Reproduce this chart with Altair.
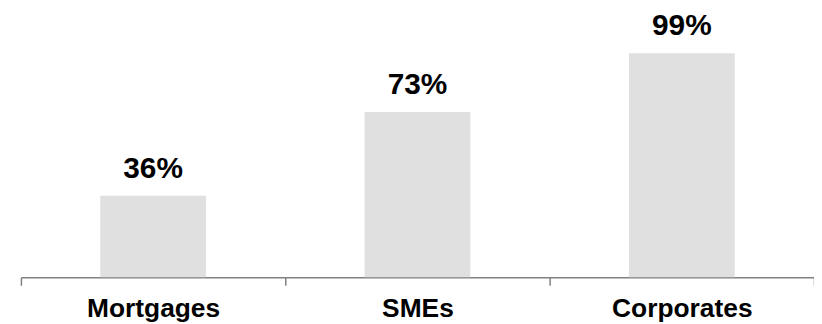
import altair as alt
import pandas as pd

categories = ["Mortgages", "SMEs", "Corporates"]
values = [0.36, 0.73, 0.99]
labels = ["36%", "73%", "99%"]

df = pd.DataFrame({"cat": categories, "val": values, "label": labels})

x = alt.X("cat:N", sort=categories, title=None,
          scale=alt.Scale(paddingInner=0, paddingOuter=0),
          axis=alt.Axis(labelAngle=0, tickBand="extent", labelFont="Liberation Sans",
                        labelFontSize=26.5, labelFontWeight="bold", labelColor="black",
                        labelPadding=10, domainColor="#808080", tickColor="#808080",
                        tickSize=8, domainWidth=1.5, tickWidth=1.5))
y = alt.Y("val:Q", scale=alt.Scale(domain=[0, 1.15]), axis=None)

bars = alt.Chart(df).mark_bar(color="#e0e0e0", width=alt.RelativeBandSize(0.4)).encode(x=x, y=y)
text = alt.Chart(df).mark_text(font="Liberation Sans", fontSize=30, fontWeight="bold",
                               color="black", baseline="alphabetic", dy=-18).encode(
    x=x, y=y, text="label:N")

chart = (bars + text).properties(
    width=798, height=262,
    padding={"left": 13, "top": 8, "right": 0, "bottom": 46},
    autosize=alt.AutoSizeParams(type="none"),
).configure(background="white").configure_view(stroke=None)

chart.save("out.html", embed_options={"renderer": "svg", "actions": False})
